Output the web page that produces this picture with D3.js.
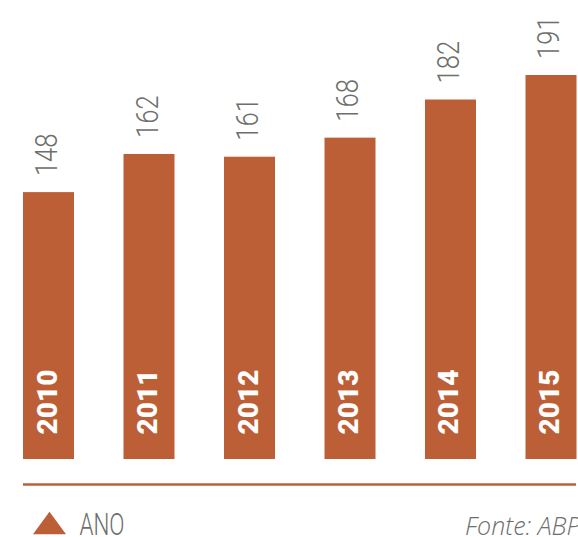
<!DOCTYPE html>
<html>
<head>
<meta charset="utf-8">
<script src="https://cdn.jsdelivr.net/npm/d3@7/dist/d3.min.js"></script>
<style>
  html, body { margin: 0; padding: 0; background: #fff; }
  svg { display: block; }
</style>
</head>
<body>
<svg id="chart" width="578" height="537"></svg>
<script>
const years = ["2010", "2011", "2012", "2013", "2014", "2015"];
const values = [148, 162, 161, 168, 182, 191];
const legendLabel = "ANO";
const sourceLabel = "Fonte: ABPA";

const barColor = "#bc5f37";
const textColor = "#6d6f6b";

const svg = d3.select("#chart");

const x = d3.scaleBand()
  .domain(years)
  .range([23, 576.5])
  .paddingInner(0.4925)
  .paddingOuter(0);

const y = d3.scaleLinear()
  .domain([50, 191])
  .range([459, 75]);

const g = svg.append("g");

const rows = years.map((yr, i) => ({ yr, v: values[i] }));

// bars
g.selectAll("rect.bar")
  .data(rows)
  .join("rect")
  .attr("class", "bar")
  .attr("x", d => x(d.yr))
  .attr("y", d => y(d.v))
  .attr("width", x.bandwidth())
  .attr("height", d => y.range()[0] - y(d.v))
  .attr("fill", barColor);

// value labels (rotated)
g.selectAll("text.val")
  .data(rows)
  .join("text")
  .attr("class", "val")
  .attr("transform", d => {
    const cx = x(d.yr) + x.bandwidth() / 2 + 8.5;
    const cy = y(d.v) - 16;
    return `translate(${cx},${cy}) rotate(-90) scale(0.8,1)`;
  })
  .attr("text-anchor", "start")
  .attr("font-family", "Roboto, 'Open Sans', sans-serif")
  .attr("font-weight", 300)
  .attr("font-size", 32)
  .attr("fill", textColor)
  .text(d => d.v);

// year labels inside bars
g.selectAll("text.yr")
  .data(years)
  .join("text")
  .attr("class", "yr")
  .attr("transform", d => {
    const cx = x(d) + x.bandwidth() / 2 + 8;
    const cy = 434.5;
    return `translate(${cx},${cy}) rotate(-90)`;
  })
  .attr("text-anchor", "start")
  .attr("font-family", "Roboto, 'Open Sans', sans-serif")
  .attr("font-weight", 900)
  .attr("font-size", 28)
  .attr("fill", "#ffffff")
  .text(d => d);

// baseline rule
svg.append("line")
  .attr("x1", 23).attr("x2", 576)
  .attr("y1", 484.5).attr("y2", 484.5)
  .attr("stroke", barColor)
  .attr("stroke-width", 2.5);

// legend
svg.append("path")
  .attr("d", d3.line()([[33, 534.3], [49.5, 511.7], [66, 534.3]]) + "Z")
  .attr("fill", barColor);

svg.append("text")
  .attr("x", 79.5)
  .attr("y", 534.5)
  .attr("textLength", 45)
  .attr("lengthAdjust", "spacingAndGlyphs")
  .attr("font-family", "Roboto, 'Open Sans', sans-serif")
  .attr("font-weight", 300)
  .attr("font-size", 31)
  .attr("fill", textColor)
  .text(legendLabel);

svg.append("text")
  .attr("x", 465)
  .attr("y", 535)
  .attr("font-family", "'Open Sans', sans-serif")
  .attr("font-style", "italic")
  .attr("font-weight", 300)
  .attr("font-size", 25)
  .attr("fill", textColor)
  .text(sourceLabel);
</script>
</body>
</html>
